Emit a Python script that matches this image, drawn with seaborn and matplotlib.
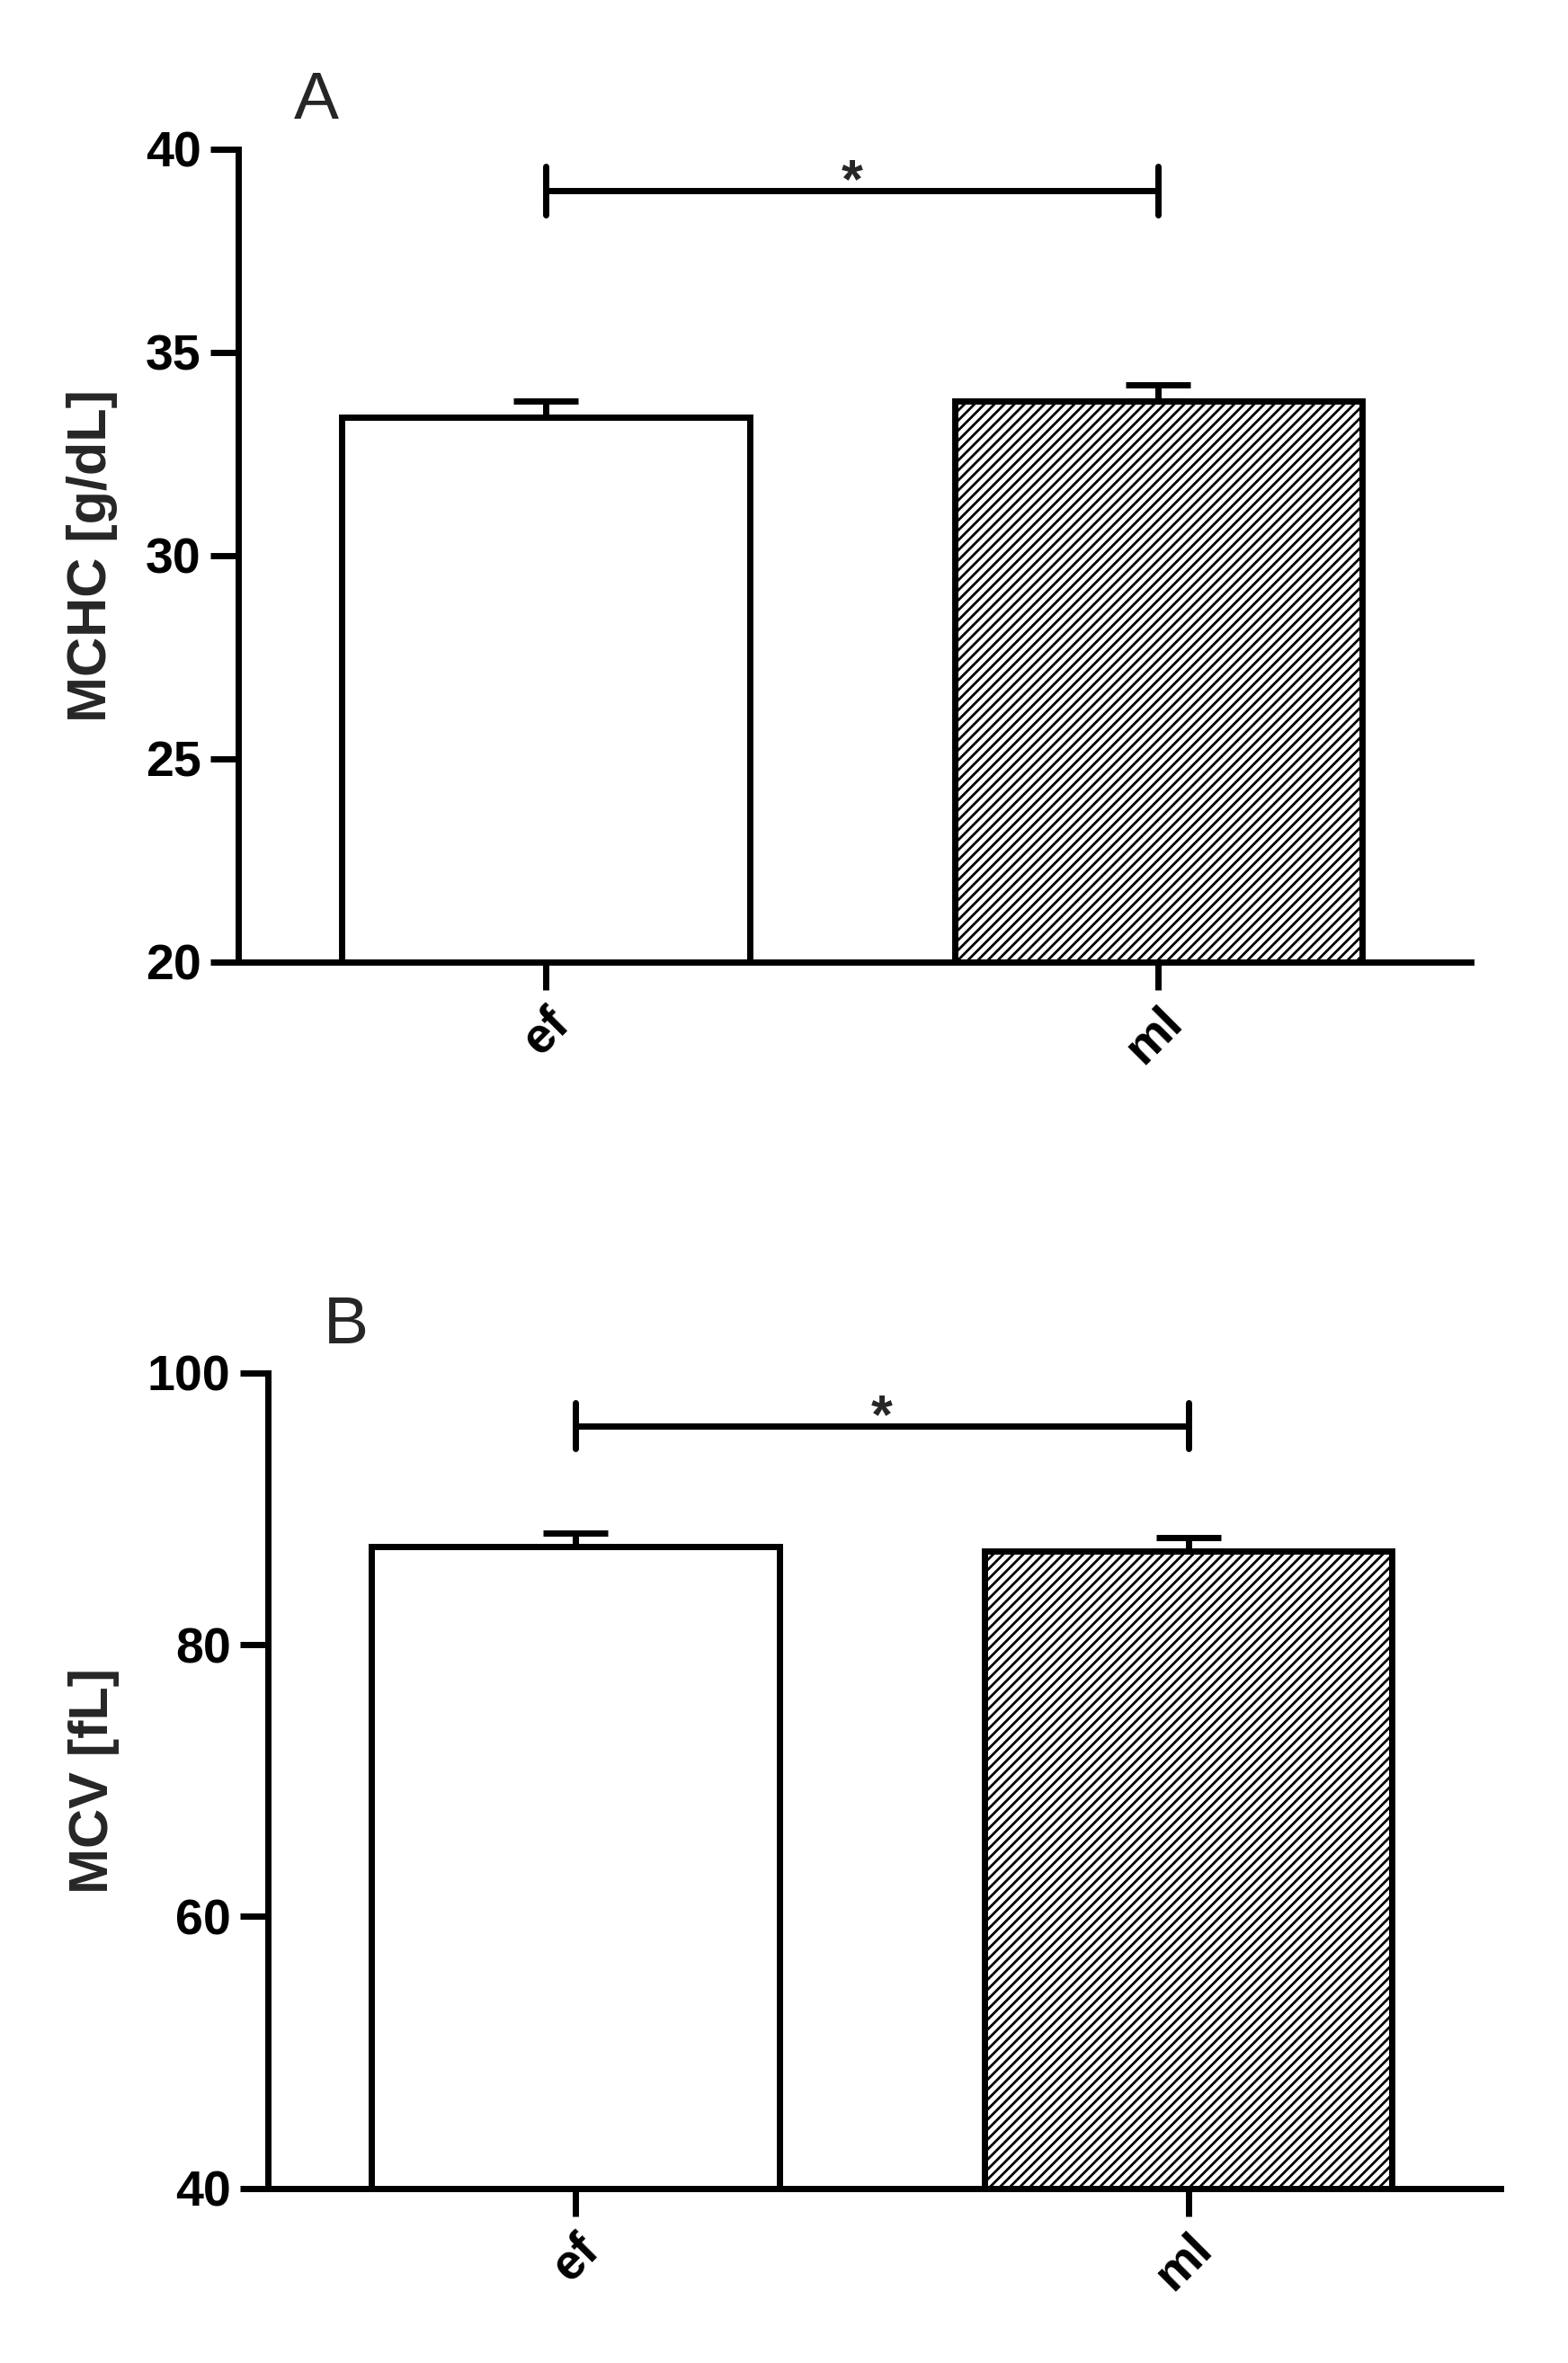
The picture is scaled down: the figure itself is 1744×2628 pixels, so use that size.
import numpy as np
import pandas as pd
import seaborn as sns
import matplotlib.pyplot as plt

groups = ['ef', 'ml']
mchc_mean = [33.4, 33.8]
mchc_sem = [0.4, 0.4]
mcv_mean = [87.2, 86.9]
mcv_sem = [1.0, 1.0]

sns.set_style('ticks')
plt.rcParams['font.family'] = ['Liberation Sans', 'DejaVu Sans']
plt.rcParams['font.weight'] = 'bold'
plt.rcParams['hatch.linewidth'] = 2.0

fig = plt.figure(figsize=(17.44, 26.28), dpi=100)
ax_a = fig.add_axes([0.152, 0.593, 0.786, 0.344])
ax_b = fig.add_axes([0.171, 0.074, 0.786, 0.345])


def draw_panel(ax, means, sems, ylim, yticks, ylabel, letter, sig_y, star_off, cap_len):
    df = pd.DataFrame({'group': groups, 'value': means})
    sns.barplot(data=df, x='group', y='value', ax=ax, width=0.666,
                color='white', edgecolor='black', linewidth=5, errorbar=None)
    ax.patches[1].set_hatch('///')
    ax.errorbar([0, 1], means, yerr=[[0, 0], sems], fmt='none',
                ecolor='black', elinewidth=5, capsize=26, capthick=5)
    ax.set_ylim(*ylim)
    ax.set_xlim(-0.502, 1.51)
    ax.set_yticks(yticks)
    ax.set_xlabel('')
    ax.set_ylabel(ylabel, fontsize=44, fontweight='bold', labelpad=22)
    ax.tick_params(axis='both', width=5, length=22, labelsize=40, pad=8,
                   color='black', labelcolor='black')
    plt.setp(ax.get_xticklabels(), rotation=45, ha='right', rotation_mode='anchor', fontweight='bold')
    plt.setp(ax.get_yticklabels(), fontweight='bold')
    for s in ['left', 'bottom']:
        ax.spines[s].set_linewidth(5)
        ax.spines[s].set_color('black')
    sns.despine(ax=ax)
    # significance bracket
    ax.plot([0, 1], [sig_y, sig_y], color='black', lw=5, clip_on=False)
    for x in [0, 1]:
        ax.plot([x, x], [sig_y - cap_len, sig_y + cap_len], color='black', lw=5, clip_on=False)
    ax.text(0.5, sig_y + star_off, '*', ha='center', va='bottom', fontsize=44, fontweight='bold')
    ax.text(0.045, 1.02, letter, transform=ax.transAxes, fontsize=54, fontweight='normal',
            ha='left', va='bottom')


draw_panel(ax_a, mchc_mean, mchc_sem, (20, 40), [20, 25, 30, 35, 40],
           'MCHC [g/dL]', 'A', 38.97, -0.45, 0.6)
draw_panel(ax_b, mcv_mean, mcv_sem, (40, 100), [40, 60, 80, 100],
           'MCV [fL]', 'B', 96.1, -1.35, 1.7)

fig.savefig('out.png', dpi=100)
